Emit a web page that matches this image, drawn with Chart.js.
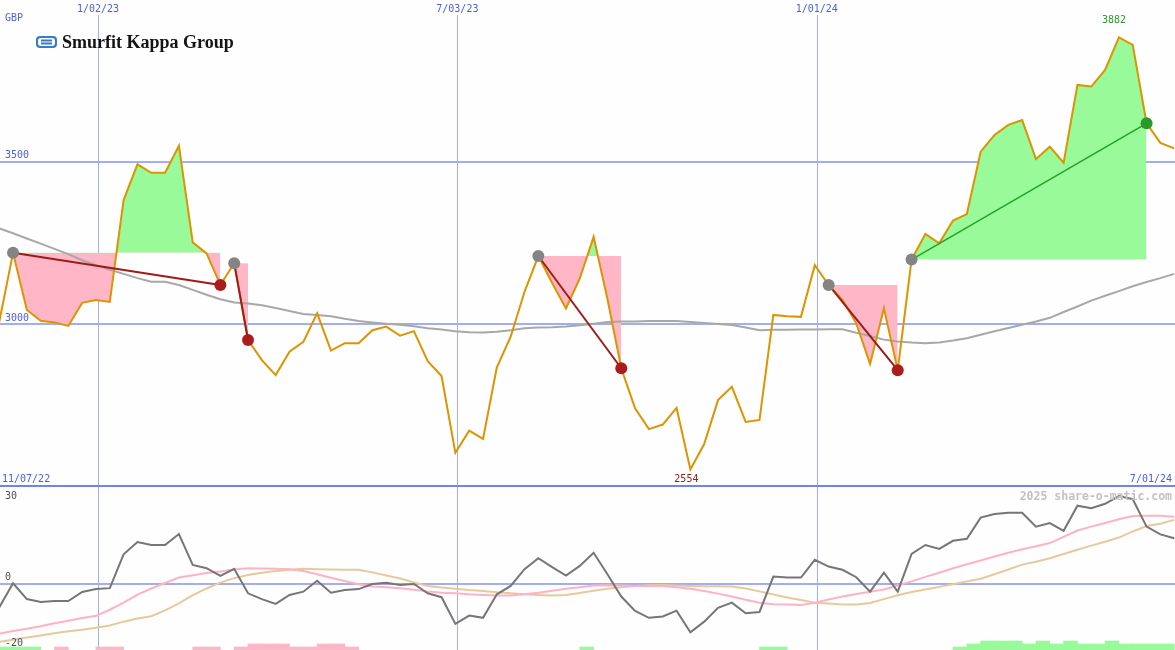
<!DOCTYPE html>
<html>
<head>
<meta charset="utf-8">
<script src="https://cdn.jsdelivr.net/npm/chart.js@4.4.1/dist/chart.umd.min.js"></script>
<style>
  html, body { margin: 0; padding: 0; background: #fdfefd; }
  #wrap { position: relative; width: 1175px; height: 650px; overflow: hidden; }
  #priceBox { position: absolute; left: 0; top: 0; width: 1175px; height: 487px; }
  #oscBox { position: absolute; left: 0; top: 487px; width: 1175px; height: 163px; }
</style>
</head>
<body>
<div id="wrap">
  <div id="priceBox"><canvas id="priceChart" width="1175" height="487"></canvas></div>
  <div id="oscBox"><canvas id="oscChart" width="1175" height="163"></canvas></div>
</div>
<script>
// weekly data, x = days since 1/01/23, first week is 13/11/22 (week -7)
const firstWeek = -7;

const price = [
  3007, 3220, 3044, 3011, 3006, 2995, 3066, 3075, 3069, 3382,
  3492, 3466, 3466, 3549, 3252, 3218, 3121, 3188, 2952, 2890,
  2844, 2916, 2946, 3034, 2919, 2942, 2942, 2982, 2993, 2965,
  2979, 2887, 2841, 2605, 2673, 2648, 2868, 2962, 3100, 3210,
  3127, 3049, 3141, 3269, 3078, 2865, 2742, 2678, 2692, 2743,
  2554, 2632, 2767, 2808, 2700, 2706, 3029, 3025, 3023, 3182,
  3121, 3075, 3003, 2878, 3049, 2859, 3199, 3278, 3249, 3319,
  3339, 3531, 3582, 3613, 3628, 3508, 3546, 3497, 3736, 3731,
  3782, 3882, 3859, 3618, 3558, 3541
];

const priceAvg = [
  3295, 3280, 3264, 3248, 3232, 3216, 3197, 3182, 3168, 3155,
  3142, 3131, 3131, 3121, 3106, 3091, 3077, 3067, 3064, 3059,
  3050, 3041, 3032, 3029, 3025, 3017, 3010, 3006, 3002, 2999,
  2994, 2988, 2984, 2979, 2976, 2975, 2977, 2982, 2988, 2990,
  2991, 2993, 2997, 3002, 3007, 3009, 3009, 3010, 3010, 3010,
  3007, 3004, 3001, 2998, 2990, 2982, 2983, 2983, 2984, 2984,
  2985, 2985, 2974, 2964, 2953, 2947, 2944, 2942, 2944, 2950,
  2957, 2968, 2979, 2989, 2999, 3009, 3020, 3038, 3055, 3073,
  3088, 3102, 3117, 3130, 3142, 3155
];

const osc = [
  -7.4, 0.1, -4.8, -5.7, -5.4, -5.4, -2.6, -1.7, -1.4, 9.1,
  12.9, 12.0, 12.0, 15.4, 5.8, 4.8, 2.4, 4.6, -3.0, -4.8,
  -6.3, -3.5, -2.5, 0.9, -2.8, -2.0, -1.7, -0.1, 0.3, -0.4,
  -0.1, -3.0, -4.2, -12.5, -9.9, -10.6, -3.3, -0.7, 4.5, 7.9,
  5.1, 2.5, 5.5, 9.6, 2.9, -4.0, -8.5, -10.6, -10.2, -8.4,
  -15.1, -11.8, -7.5, -5.9, -9.2, -8.8, 2.2, 1.9, 1.9, 7.4,
  5.3, 4.3, 2.0, -2.5, 3.4, -2.5, 9.2, 12.0, 10.8, 13.3,
  13.9, 20.5, 21.6, 22.0, 22.0, 17.7, 18.8, 16.4, 24.2, 23.4,
  24.8, 27.2, 26.2, 17.7, 15.3, 14.1
];

const oscFast = [
  -15.5, -14.7, -14.0, -13.2, -12.3, -11.5, -10.7, -10.0, -8.1, -5.9,
  -3.4, -1.5, 0.2, 1.9, 2.6, 3.3, 3.8, 4.4, 4.8, 4.7,
  4.6, 4.5, 3.9, 2.9, 1.8, 0.8, -0.2, -0.9, -1.1, -1.4,
  -1.9, -2.4, -2.8, -3.0, -3.3, -3.5, -3.7, -3.7, -3.3, -2.8,
  -2.2, -1.6, -1.1, -0.6, -0.5, -0.6, -0.7, -0.7, -0.7, -1.1,
  -1.6, -2.3, -3.1, -4.0, -5.0, -5.9, -6.4, -6.5, -6.6, -5.9,
  -4.9, -4.0, -3.2, -2.5, -1.8, -0.6, 0.7, 2.1, 3.4, 4.8,
  6.0, 7.2, 8.4, 9.6, 10.7, 11.6, 12.6, 14.5, 16.5, 17.7,
  18.8, 20.0, 21.0, 21.1, 21.1, 20.8
];

const oscSlow = [
  -18.1, -17.4, -16.7, -16.1, -15.4, -14.8, -14.3, -13.7, -13.0, -11.8,
  -10.8, -10.1, -8.3, -6.1, -3.6, -1.5, 0.3, 1.7, 2.7, 3.4,
  3.9, 4.3, 4.6, 4.5, 4.4, 4.3, 4.3, 3.5, 2.5, 1.6,
  0.4, -0.7, -1.2, -1.6, -2.0, -2.3, -2.7, -3.0, -3.3, -3.5,
  -3.7, -3.5, -2.9, -2.2, -1.6, -1.1, -0.7, -0.5, -0.4, -0.6,
  -0.7, -0.8, -0.8, -0.9, -1.5, -2.4, -3.4, -4.3, -5.1, -5.9,
  -6.2, -6.5, -6.5, -6.0, -4.8, -3.6, -2.6, -1.8, -1.0, -0.2,
  0.7, 1.5, 2.9, 4.4, 5.9, 6.8, 7.9, 9.2, 10.5, 11.8,
  13.0, 14.3, 16.2, 17.9, 18.6, 19.8
];

// signal strength per week (bar spans week k to k+1)
const signal = [
  1, 1, 1, 0, -1, 0, 0, -1, -1, 0,
  0, 0, 0, 0, -1, -1, 0, -1, -2, -2,
  -2, -1, -1, -2, -2, -1, 0, 0, 0, 0,
  0, 0, 0, 0, 0, 0, 0, 0, 0, 0,
  0, 0, 1, 0, 0, 0, 0, 0, 0, 0,
  0, 0, 0, 0, 0, 1, 1, 0, 0, 0,
  0, 0, 0, 0, 0, 0, 0, 0, 0, 1,
  2, 3, 3, 3, 2, 3, 2, 3, 2, 2,
  3, 2, 2, 2, 2
];

// trades (week numbers)
const tradeEntry = [-6, 10, 32, 53, 59];
const tradeExit = [9, 11, 38, 58, 76];

// date axis
const gridDays = [1, 183, 365];
const gridLabels = ['1/02/23', '7/03/23', '1/01/24'];
const startLabel = '11/07/22';
const endLabel = '7/01/24';
const priceTicks = [3000, 3500];
const oscTicks = ['30', '0', '-20'];

const xMin = -48.6, xMax = 546.4;

const BLUE_TEXT = '#4b5ee6';
const GRID = '#a3aef2';
const GREEN_FILL = '#98fa98';
const PINK_FILL = '#ffb6c6';
const MONO = '"DejaVu Sans Mono", monospace';

const weekDay = i => (i + firstWeek) * 7;
const pricePts = price.map((v, i) => ({x: weekDay(i), y: v}));
const avgPts = priceAvg.map((v, i) => ({x: weekDay(i), y: v}));

const fillSets = tradeEntry.map((e, t) => {
  const level = price[e - firstWeek];
  const pts = pricePts.slice(e - firstWeek, tradeExit[t] - firstWeek + 1);
  return {
    data: pts,
    borderColor: 'rgba(0,0,0,0)',
    borderWidth: 0,
    pointRadius: 0,
    fill: {target: {value: level}, above: GREEN_FILL, below: PINK_FILL},
    order: 10
  };
});

const tradeSets = tradeEntry.map((e, t) => {
  const a = pricePts[e - firstWeek];
  const b = pricePts[tradeExit[t] - firstWeek];
  const win = b.y > a.y;
  return {
    data: [a, b],
    borderColor: win ? '#27a027' : '#a01a1a',
    borderWidth: win ? 1.5 : 2,
    pointRadius: 6,
    pointBorderWidth: 0,
    pointBorderColor: 'rgba(0,0,0,0)',
    pointBackgroundColor: ['#848484', win ? '#2a9a2a' : '#ad1c1c'],
    fill: false,
    order: 1
  };
});

function vLines(chart, top) {
  const ctx = chart.ctx, x = chart.scales.x;
  ctx.save();
  ctx.strokeStyle = GRID;
  ctx.lineWidth = 1;
  gridDays.forEach(d => {
    const px = Math.round(x.getPixelForValue(d)) + 0.5;
    ctx.beginPath();
    ctx.moveTo(px, top);
    ctx.lineTo(px, chart.height);
    ctx.stroke();
  });
  ctx.restore();
}

const priceDecor = {
  id: 'priceDecor',
  beforeDatasetsDraw(chart) {
    const ctx = chart.ctx, y = chart.scales.y;
    vLines(chart, 15);
    ctx.save();
    ctx.strokeStyle = GRID;
    ctx.lineWidth = 2;
    priceTicks.forEach(v => {
      const py = Math.round(y.getPixelForValue(v));
      ctx.beginPath();
      ctx.moveTo(0, py);
      ctx.lineTo(chart.width, py);
      ctx.stroke();
    });
    ctx.strokeStyle = '#7283ea';
    ctx.beginPath();
    ctx.moveTo(0, chart.height - 1);
    ctx.lineTo(chart.width, chart.height - 1);
    ctx.stroke();
    ctx.restore();
  },
  afterDraw(chart) {
    const ctx = chart.ctx, x = chart.scales.x, y = chart.scales.y;
    ctx.save();
    ctx.font = '10px ' + MONO;
    ctx.textBaseline = 'middle';
    ctx.fillStyle = BLUE_TEXT;
    ctx.textAlign = 'center';
    gridDays.forEach((d, i) => ctx.fillText(gridLabels[i], x.getPixelForValue(d), 9));
    ctx.textAlign = 'left';
    ctx.fillText('GBP', 5, 18);
    priceTicks.forEach(v => ctx.fillText(String(v), 5, y.getPixelForValue(v) - 6));
    ctx.fillText(startLabel, 2, chart.height - 8);
    ctx.textAlign = 'right';
    ctx.fillText(endLabel, chart.width - 3, chart.height - 8);

    // high / low
    let hi = 0, lo = 0;
    price.forEach((v, i) => { if (v > price[hi]) hi = i; if (v < price[lo]) lo = i; });
    ctx.textAlign = 'center';
    ctx.fillStyle = '#2a9a2a';
    ctx.fillText(String(price[hi]), x.getPixelForValue(weekDay(hi)) - 5, y.getPixelForValue(price[hi]) - 17);
    ctx.fillStyle = '#a01a1a';
    ctx.fillText(String(price[lo]), x.getPixelForValue(weekDay(lo)) - 4, y.getPixelForValue(price[lo]) + 10);

    // logo
    ctx.fillStyle = '#3a7bc8';
    ctx.beginPath();
    ctx.roundRect(36, 36, 21, 12, 4);
    ctx.fill();
    ctx.fillStyle = '#fdfefd';
    ctx.beginPath();
    ctx.roundRect(38, 38, 17, 8, 3);
    ctx.fill();
    ctx.fillStyle = '#3a7bc8';
    ctx.fillRect(41, 39.5, 11, 2);
    ctx.fillRect(41, 42.5, 11, 2);
    ctx.fillStyle = '#141414';
    ctx.textAlign = 'left';
    ctx.textBaseline = 'alphabetic';
    ctx.font = 'bold 18px "Liberation Serif", serif';
    ctx.fillText('Smurfit Kappa Group', 62, 48);
    ctx.restore();
  }
};

new Chart(document.getElementById('priceChart'), {
  type: 'line',
  data: {
    datasets: [
      ...tradeSets,
      {data: pricePts, borderColor: '#dc9400', borderWidth: 2, pointRadius: 0, fill: false, order: 3},
      {data: avgPts, borderColor: '#a8a8a8', borderWidth: 2, pointRadius: 0, fill: false, order: 4},
      ...fillSets
    ]
  },
  options: {
    responsive: false,
    animation: false,
    devicePixelRatio: 1,
    layout: {padding: 0, autoPadding: false},
    elements: {line: {tension: 0}},
    plugins: {legend: {display: false}, tooltip: {enabled: false}},
    scales: {
      x: {type: 'linear', display: false, min: xMin, max: xMax, offset: false},
      y: {display: false, min: 2500, max: 3997}
    }
  },
  plugins: [priceDecor]
});

const oscDecor = {
  id: 'oscDecor',
  beforeDatasetsDraw(chart) {
    const ctx = chart.ctx, y = chart.scales.y;
    vLines(chart, 0);
    ctx.save();
    ctx.strokeStyle = GRID;
    ctx.lineWidth = 2;
    const py = Math.round(y.getPixelForValue(0));
    ctx.beginPath();
    ctx.moveTo(0, py);
    ctx.lineTo(chart.width, py);
    ctx.stroke();
    ctx.restore();
  },
  afterDraw(chart) {
    const ctx = chart.ctx, y = chart.scales.y;
    ctx.save();
    ctx.font = '10px ' + MONO;
    ctx.textBaseline = 'middle';
    ctx.fillStyle = '#505050';
    ctx.textAlign = 'left';
    ctx.fillText(oscTicks[0], 5, 9);
    ctx.fillText(oscTicks[1], 5, y.getPixelForValue(0) - 6);
    ctx.fillText(oscTicks[2], 5, chart.height - 7);
    ctx.font = 'bold 11.5px ' + MONO;
    ctx.fillStyle = '#c2c2c2';
    ctx.textAlign = 'right';
    ctx.fillText('2025 share-o-matic.com', chart.width - 3, 10);
    ctx.restore();
  }
};

new Chart(document.getElementById('oscChart'), {
  type: 'line',
  data: {
    datasets: [
      {data: osc.map((v, i) => ({x: weekDay(i), y: v})), borderColor: '#767676', borderWidth: 2, pointRadius: 0, order: 1},
      {data: oscFast.map((v, i) => ({x: weekDay(i), y: v})), borderColor: '#ffb2c6', borderWidth: 2, pointRadius: 0, order: 2},
      {data: oscSlow.map((v, i) => ({x: weekDay(i), y: v})), borderColor: '#e6c99c', borderWidth: 2, pointRadius: 0, order: 3},
      {
        type: 'bar',
        yAxisID: 'yh',
        data: signal.map((v, i) => ({x: weekDay(i) + 3.5, y: Math.abs(v)})),
        backgroundColor: signal.map(v => v > 0 ? GREEN_FILL : v < 0 ? PINK_FILL : 'rgba(0,0,0,0)'),
        borderWidth: 0,
        barPercentage: 1,
        categoryPercentage: 1,
        order: 5
      }
    ]
  },
  options: {
    responsive: false,
    animation: false,
    devicePixelRatio: 1,
    layout: {padding: 0, autoPadding: false},
    elements: {line: {tension: 0}},
    plugins: {legend: {display: false}, tooltip: {enabled: false}},
    scales: {
      x: {type: 'linear', display: false, min: xMin, max: xMax, offset: false},
      y: {display: false, min: -20.6, max: 30},
      yh: {display: false, min: 0, max: 163 / 3}
    }
  },
  plugins: [oscDecor]
});
</script>
</body>
</html>
